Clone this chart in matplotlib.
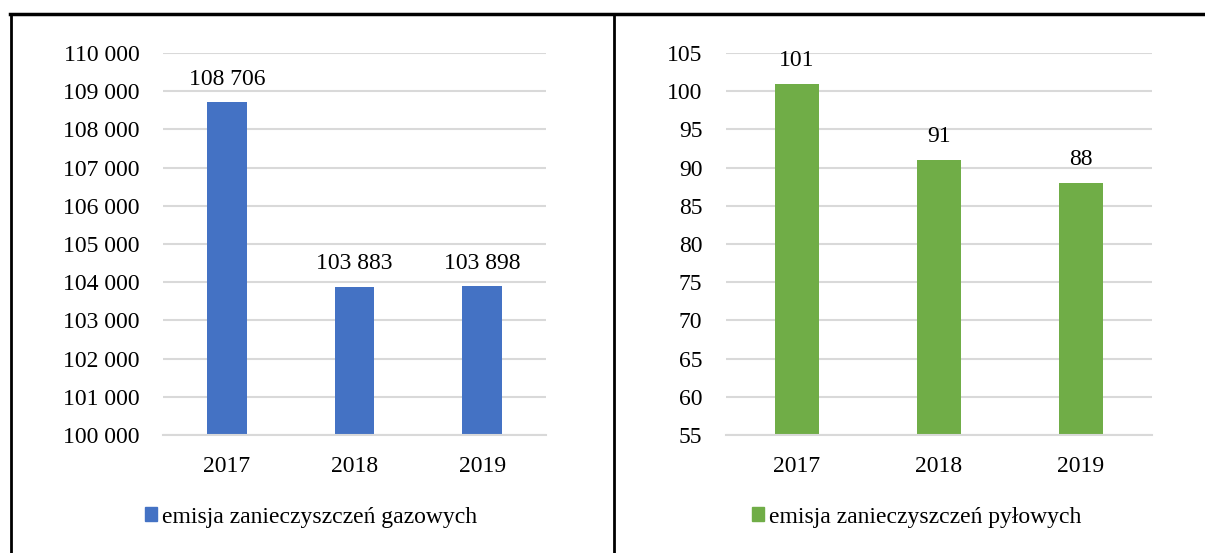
import matplotlib.pyplot as plt
from matplotlib.lines import Line2D
from matplotlib.patches import Patch

plt.rcParams['font.family'] = ['Liberation Serif', 'DejaVu Serif']

# dane
lata = ['2017', '2018', '2019']
gazowe = [108706, 103883, 103898]
pylowe = [101, 91, 88]

gaz_ticks = list(range(100000, 110001, 1000))
pyl_ticks = list(range(55, 106, 5))

niebieski = '#4472C4'
zielony = '#70AD47'
fs = 17

fig = plt.figure(figsize=(12.05, 5.53), dpi=100)


def fmt(v):
    return f'{v:,}'.replace(',', ' ')


def panel(rect, values, ticks, color, legend_label, legend_xy):
    ax = fig.add_axes(rect)
    x = range(len(lata))
    ax.bar(x, values, width=0.31, color=color, zorder=3)
    ax.set_xlim(-0.5, 2.5)
    ax.set_ylim(ticks[0], ticks[-1])
    ax.set_yticks(ticks)
    ax.set_yticklabels([fmt(t) for t in ticks], fontsize=fs)
    ax.set_xticks(list(x))
    ax.set_xticklabels(lata, fontsize=fs)
    ax.tick_params(length=0)
    ax.tick_params(axis='y', pad=17)
    ax.tick_params(axis='x', pad=15)
    ax.grid(axis='y', color='#d9d9d9', linewidth=1.5, zorder=0)
    for s in ['top', 'right', 'left']:
        ax.spines[s].set_visible(False)
    ax.spines['bottom'].set_color('#d9d9d9')
    ax.spines['bottom'].set_linewidth(1.5)
    ax.spines['bottom'].set_zorder(4)
    for xi, v in zip(x, values):
        ax.annotate(fmt(v), (xi, v), xytext=(0, 9), textcoords='offset points',
                    ha='center', va='bottom', fontsize=fs)
    fig.legend(handles=[Patch(color=color, label=legend_label)],
               loc='center left', bbox_to_anchor=legend_xy, frameon=False,
               fontsize=fs, handlelength=0.5, handleheight=0.5, handletextpad=0.2,
               borderpad=0, borderaxespad=0)
    return ax


panel([163 / 1205, 118 / 553, 383 / 1205, 382 / 553], gazowe, gaz_ticks, niebieski,
      'emisja zanieczyszczeń gazowych', (145 / 1205, 1 - 517 / 553))
panel([726 / 1205, 118 / 553, 426 / 1205, 382 / 553], pylowe, pyl_ticks, zielony,
      'emisja zanieczyszczeń pyłowych', (752 / 1205, 1 - 517 / 553))

# ramki
fig.add_artist(Line2D([10 / 1205, 1], [1 - 14 / 553] * 2, color='black', lw=2.5))
fig.add_artist(Line2D([11 / 1205] * 2, [0, 1 - 14 / 553], color='black', lw=2))
fig.add_artist(Line2D([614 / 1205] * 2, [0, 1 - 14 / 553], color='black', lw=2))

fig.savefig('out.png', dpi=100)
